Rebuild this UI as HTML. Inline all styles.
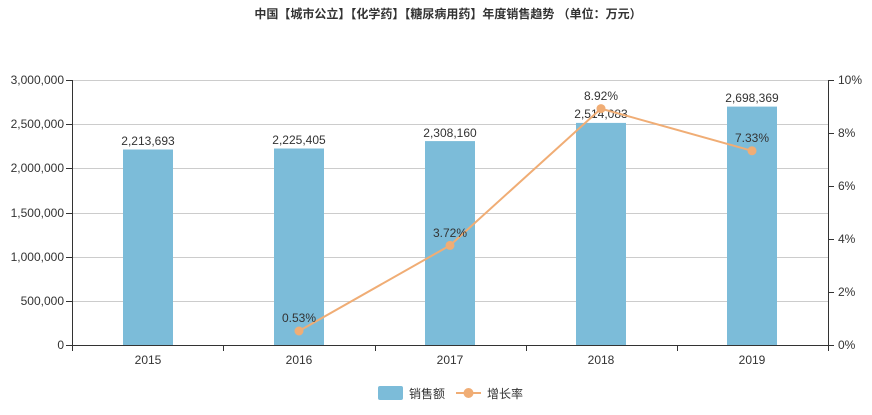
<!DOCTYPE html>
<html><head><meta charset="utf-8"><style>
body{margin:0;background:#fff;}
svg text{font-family:"Liberation Sans","Noto Sans CJK SC",sans-serif;}
</style></head><body>
<svg width="872" height="410" viewBox="0 0 872 410" xmlns="http://www.w3.org/2000/svg">
<text x="448" y="18" text-anchor="middle" font-size="12" font-weight="bold" fill="#333">中国【城市公立】【化学药】【糖尿病用药】年度销售趋势 （单位：万元）</text>
<g stroke="#ccc" stroke-width="1">
<line x1="72" y1="80.5" x2="828" y2="80.5"/>
<line x1="72" y1="124.5" x2="828" y2="124.5"/>
<line x1="72" y1="168.5" x2="828" y2="168.5"/>
<line x1="72" y1="213.5" x2="828" y2="213.5"/>
<line x1="72" y1="257.5" x2="828" y2="257.5"/>
<line x1="72" y1="301.5" x2="828" y2="301.5"/>
</g>
<g stroke="#333" stroke-width="1">
<line x1="72.5" y1="80" x2="72.5" y2="345"/>
<line x1="828.5" y1="80" x2="828.5" y2="345"/>
<line x1="72" y1="345.5" x2="828" y2="345.5"/>
<line x1="66" y1="80.5" x2="72" y2="80.5"/><line x1="66" y1="124.5" x2="72" y2="124.5"/><line x1="66" y1="168.5" x2="72" y2="168.5"/><line x1="66" y1="213.5" x2="72" y2="213.5"/><line x1="66" y1="257.5" x2="72" y2="257.5"/><line x1="66" y1="301.5" x2="72" y2="301.5"/><line x1="66" y1="345.5" x2="72" y2="345.5"/>
<line x1="828" y1="80.5" x2="834" y2="80.5"/><line x1="828" y1="133.5" x2="834" y2="133.5"/><line x1="828" y1="186.5" x2="834" y2="186.5"/><line x1="828" y1="239.5" x2="834" y2="239.5"/><line x1="828" y1="292.5" x2="834" y2="292.5"/><line x1="828" y1="345.5" x2="834" y2="345.5"/>
<line x1="72.5" y1="345" x2="72.5" y2="351"/><line x1="223.5" y1="345" x2="223.5" y2="351"/><line x1="375.5" y1="345" x2="375.5" y2="351"/><line x1="526.5" y1="345" x2="526.5" y2="351"/><line x1="677.5" y1="345" x2="677.5" y2="351"/><line x1="828.5" y1="345" x2="828.5" y2="351"/>
</g>
<g font-size="12" fill="#333" text-anchor="end">
<text x="64" y="84">3,000,000</text><text x="64" y="128">2,500,000</text><text x="64" y="172">2,000,000</text><text x="64" y="217">1,500,000</text><text x="64" y="261">1,000,000</text><text x="64" y="305">500,000</text><text x="64" y="349">0</text>
</g>
<g font-size="12" fill="#333" text-anchor="start">
<text x="838" y="84">10%</text><text x="838" y="137">8%</text><text x="838" y="190">6%</text><text x="838" y="243">4%</text><text x="838" y="296">2%</text><text x="838" y="349">0%</text>
</g>
<g font-size="12" fill="#333" text-anchor="middle">
<text x="148" y="364">2015</text><text x="299" y="364">2016</text><text x="450" y="364">2017</text><text x="601" y="364">2018</text><text x="752" y="364">2019</text>
</g>
<g fill="#7cbcd9">
<rect x="123" y="149.5" width="50" height="195.5"/>
<rect x="274" y="148.5" width="50" height="196.5"/>
<rect x="425" y="141.1" width="50" height="203.9"/>
<rect x="576" y="122.9" width="50" height="222.1"/>
<rect x="727" y="106.6" width="50" height="238.4"/>
</g>
<g font-size="12" fill="#333" text-anchor="middle">
<text x="148" y="145">2,213,693</text><text x="299" y="144">2,225,405</text><text x="450" y="137">2,308,160</text><text x="601" y="118">2,514,083</text><text x="752" y="102">2,698,369</text>
</g>
<polyline points="299,331 450,245.4 601,108.6 752,150.8" fill="none" stroke="#f0ad75" stroke-width="2"/>
<g fill="#f0ad75">
<circle cx="299" cy="331" r="4.5"/><circle cx="450" cy="245.4" r="4.5"/><circle cx="601" cy="108.6" r="4.5"/><circle cx="752" cy="150.8" r="4.5"/>
</g>
<g font-size="12" fill="#333" text-anchor="middle">
<text x="299" y="322">0.53%</text><text x="450" y="237">3.72%</text><text x="601" y="100">8.92%</text><text x="752" y="142">7.33%</text>
</g>
<rect x="378" y="386" width="25" height="14" rx="2" fill="#7cbcd9"/>
<text x="409" y="398" font-size="12" fill="#333">销售额</text>
<line x1="456" y1="393" x2="481" y2="393" stroke="#f0ad75" stroke-width="2"/>
<circle cx="468.5" cy="393" r="5" fill="#f0ad75"/>
<text x="487" y="398" font-size="12" fill="#333">增长率</text>
</svg>
</body></html>
